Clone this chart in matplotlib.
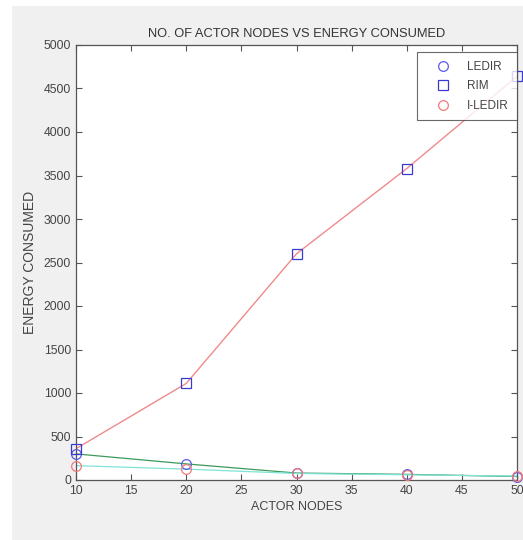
import matplotlib

matplotlib.use("Agg")
import matplotlib.pyplot as plt  # noqa: E402
from matplotlib.patches import Rectangle  # noqa: E402

# data
ACTOR_NODES = [10, 20, 30, 40, 50]
LEDIR = [300, 185, 80, 65, 40]
RIM = [360, 1110, 2600, 3580, 4640]
I_LEDIR = [165, 125, 75, 60, 45]

Y_TICKS = [0, 500, 1000, 1500, 2000, 2500, 3000, 3500, 4000, 4500, 5000]
X_TICKS = [10, 15, 20, 25, 30, 35, 40, 45, 50]

plt.rcParams["font.family"] = ["Liberation Sans", "DejaVu Sans"]

fig = plt.figure(figsize=(5.23, 5.40), dpi=100, facecolor="white")
# grey MATLAB window background, with a thin white margin top/left
fig.patches.append(
    Rectangle((12 / 523, 0), 1, 1 - 6 / 540, transform=fig.transFigure,
              facecolor="#f0f0f0", edgecolor="none", zorder=-10)
)

ax = fig.add_axes([76 / 523, 1 - 480 / 540, (517 - 76) / 523, (480 - 45) / 540])
ax.set_zorder(1)
ax.set_facecolor("white")

# connecting lines
ax.plot(ACTOR_NODES, LEDIR, color="#3c9a5c", linewidth=0.9, zorder=2)
ax.plot(ACTOR_NODES, RIM, color="#f08a8a", linewidth=1.0, zorder=2)
ax.plot(ACTOR_NODES, I_LEDIR, color="#7fe3d6", linewidth=0.9, zorder=2)

# markers
ax.plot(ACTOR_NODES, LEDIR, "o", mfc="none", mec="#5a5ae6", ms=7, mew=0.9,
        label="LEDIR", zorder=3, clip_on=False)
ax.plot(ACTOR_NODES, RIM, "s", mfc="none", mec="#3a3ad0", ms=7, mew=0.9,
        label="RIM", zorder=3, clip_on=False)
ax.plot(ACTOR_NODES, I_LEDIR, "o", mfc="none", mec="#f07a7a", ms=7, mew=0.9,
        label="I-LEDIR", zorder=3, clip_on=False)

ax.set_xlim(10, 50)
ax.set_ylim(0, 5000)
ax.set_xticks(X_TICKS)
ax.set_yticks(Y_TICKS)
ax.tick_params(direction="in", top=True, right=True, length=4, width=0.8,
               labelsize=8.8, colors="#555555", labelcolor="#444444")
for spine in ax.spines.values():
    spine.set_color("#555555")
    spine.set_linewidth(0.9)

ax.set_title("NO. OF ACTOR NODES VS ENERGY CONSUMED", fontsize=9.3,
             color="#333333", pad=6)
ax.set_xlabel("ACTOR NODES", fontsize=9, color="#444444", labelpad=3)
ax.set_ylabel("ENERGY CONSUMED", fontsize=10, color="#444444", labelpad=5)

leg = ax.legend(loc="upper right", bbox_to_anchor=(1.0, 0.983), fontsize=8.5,
                frameon=True, fancybox=False, edgecolor="#444444",
                handlelength=3.0, handletextpad=0.57, labelspacing=0.65,
                borderpad=0.7, borderaxespad=0.0)
leg.get_frame().set_linewidth(0.8)
for txt in leg.get_texts():
    txt.set_color("#444444")

fig.savefig("out.png", dpi=100, facecolor=fig.get_facecolor())
